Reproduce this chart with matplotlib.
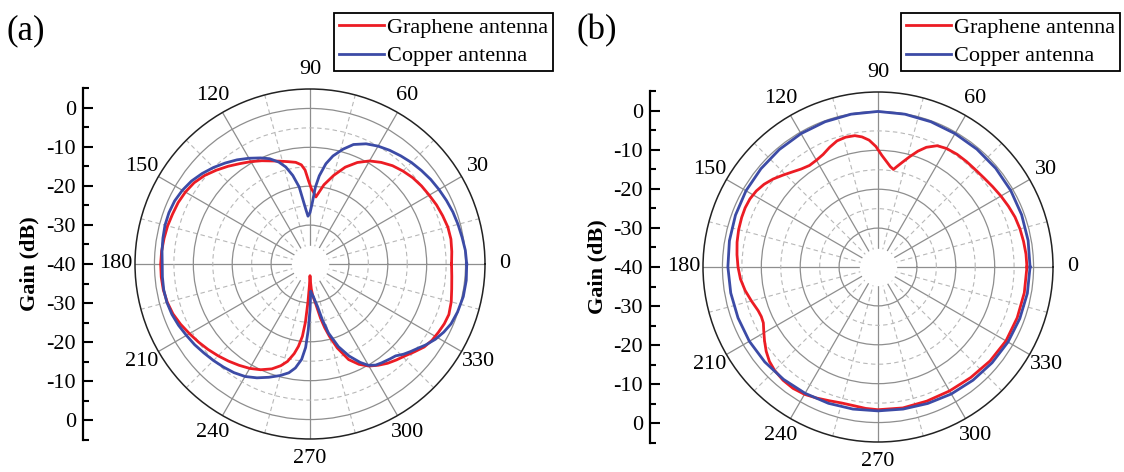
import matplotlib.pyplot as plt
import numpy as np
from matplotlib.ticker import FixedLocator

FIG_W, FIG_H = 1124, 472
FONT = "Liberation Serif"
FONTSIZE = 16
RED = "#ec1c24"
BLUE = "#3c4ba6"
R_MIN, R_MAX = -40, 5
HOLE_R = -35.2

# panel (a) - angle in degrees, gain in dB
A_GRAPHENE_ANG = [0, 5, 10, 15, 20, 25, 30, 35, 40, 45, 50, 55, 60, 65, 70, 75, 80, 83,
                  85, 87, 89, 91, 93, 95, 98, 102, 106, 110, 115, 120, 125, 130, 135,
                  140, 145, 150, 155, 160, 165, 170, 175, 180, 185, 190, 195, 200, 205,
                  210, 215, 220, 225, 230, 235, 240, 245, 250, 254, 257, 260, 262, 264,
                  265.5, 267, 268.5, 270, 271.5, 273, 275, 278, 281, 283, 285, 288, 292,
                  296, 300, 304, 308, 312, 316, 320, 324, 328, 332, 336, 340, 345, 350,
                  355, 360]
A_GRAPHENE_DB = [-3.6, -3.4, -3.2, -3.3, -3.7, -4.1, -4.6, -5.0, -5.5, -6.2, -7.0, -8.1,
                 -9.4, -11.2, -13.5, -16.4, -19.3, -21.5, -22.7, -21.6, -20.6, -18.6,
                 -15.8, -14.4, -13.6, -13.1, -12.5, -11.8, -10.7, -9.6, -8.5, -7.2, -5.9,
                 -4.6, -3.6, -3.0, -2.6, -2.4, -2.1, -1.9, -1.7, -1.6, -1.6, -1.7, -2.0,
                 -2.5, -3.3, -4.2, -5.0, -5.8, -6.6, -7.4, -8.2, -9.0, -10.0, -11.3,
                 -12.8, -14.3, -16.6, -18.6, -21.3, -25.0, -30.5, -34.5, -37.0, -35.5,
                 -33.5, -31.8, -29.8, -25.8, -23.2, -20.8, -17.3, -13.5, -11.3, -9.7,
                 -8.6, -7.6, -6.8, -6.0, -4.9, -3.7, -3.0, -2.6, -2.2, -2.0, -2.4, -3.0,
                 -3.4, -3.6]
A_COPPER_ANG = [0, 5, 10, 15, 20, 25, 30, 35, 40, 45, 50, 55, 60, 65, 70, 74, 78, 81, 84,
                86, 88, 90, 92.4, 94, 95.5, 98, 101, 104, 107, 111, 115, 120, 125, 130,
                135, 140, 145, 150, 155, 160, 165, 170, 175, 180, 185, 190, 195, 200,
                205, 210, 215, 220, 225, 230, 235, 240, 245, 250, 255, 259, 262, 265,
                267, 268.5, 270, 271.5, 273, 275.8, 278, 280, 282.5, 285, 289, 293, 297,
                300, 303, 306, 310, 313, 316, 319, 322, 325, 329, 333, 337, 342, 348,
                354, 360]
A_COPPER_DB = [0.3, 0.1, -0.3, -0.6, -0.9, -1.3, -1.7, -2.1, -2.6, -3.1, -3.7, -4.3, -5.0,
               -5.9, -7.3, -9.3, -11.6, -13.9, -17.2, -20.2, -24.5, -26.8, -27.7, -26.3,
               -24.5, -20.0, -16.8, -14.3, -12.6, -11.0, -9.9, -8.6, -7.3, -6.1, -4.9,
               -3.8, -2.8, -2.1, -1.6, -1.4, -1.4, -1.6, -1.8, -2.0, -1.9, -1.8, -1.9,
               -2.2, -2.7, -3.3, -3.8, -4.4, -4.9, -5.4, -5.9, -6.6, -7.7, -9.0, -10.3,
               -11.5, -13.0, -15.4, -18.5, -23.1, -28.2, -33.0, -32.4, -31.6, -30.3,
               -28.9, -25.3, -21.6, -17.5, -14.3, -11.6, -9.9, -9.0, -8.6, -8.1, -7.7,
               -6.6, -5.7, -4.8, -3.7, -2.4, -1.4, -0.6, -0.1, 0.3, 0.4, 0.3]

# panel (b)
B_GRAPHENE_ANG = [0, 5, 10, 15, 20, 25, 30, 35, 40, 45, 50, 55, 60, 64, 68, 71, 74, 77,
                  79.5, 81, 83, 85, 88, 91, 94, 97, 100, 104, 108, 112, 116, 120, 124,
                  128, 132, 136, 140, 144, 148, 152, 156, 160, 165, 170, 175, 180, 185,
                  190, 195, 200, 203, 206, 209, 213, 217, 221, 225, 230, 235, 240, 245,
                  250, 255, 260, 265, 270, 280, 290, 300, 310, 320, 330, 340, 350, 360]
B_GRAPHENE_DB = [-1.7, -1.8, -2.0, -2.2, -2.5, -3.0, -3.5, -4.0, -4.4, -4.6, -4.6, -4.6,
                 -4.8, -5.3, -6.8, -8.5, -10.5, -12.4, -13.8, -14.6, -14.0, -13.0, -11.3,
                 -9.0, -7.3, -6.3, -5.7, -5.6, -5.9, -6.8, -7.8, -8.3, -8.5, -8.0, -7.1,
                 -6.0, -4.8, -3.8, -3.1, -2.7, -2.6, -2.7, -2.9, -3.2, -3.6, -4.0, -4.5,
                 -5.3, -6.3, -7.2, -7.4, -7.2, -6.4, -5.2, -4.0, -3.0, -2.4, -2.0, -1.9,
                 -2.2, -2.8, -3.4, -3.8, -3.8, -3.5, -3.3, -3.2, -3.3, -3.2, -2.9, -2.4,
                 -2.0, -1.9, -1.8, -1.7]
B_COPPER_ANG = list(range(0, 361, 10))
B_COPPER_DB = [-0.9, -0.8, -0.7, -0.6, -0.5, -0.45, -0.4, -0.25, -0.1, 0.0, -0.1, -0.25,
               -0.4, -0.55, -0.7, -0.8, -1.0, -1.2, -1.4, -1.55, -1.7, -1.8, -2.0, -2.25,
               -2.5, -2.7, -2.9, -3.0, -2.9, -2.65, -2.3, -2.0, -1.7, -1.4, -1.2, -1.0,
               -0.9]

THETA_TICKS = list(range(0, 360, 30))
GAIN_TICKS = [-40, -30, -20, -10, 0, 10, 20, 30, 40]
GAIN_LABELS = ["0", "-10", "-20", "-30", "-40", "-30", "-20", "-10", "0"]
LEGEND_NAMES = ["Graphene antenna", "Copper antenna"]

plt.rcParams["font.family"] = [FONT, "DejaVu Serif"]
plt.rcParams["font.size"] = FONTSIZE
plt.rcParams["axes.unicode_minus"] = False


def px_rect(left, top, width, height):
    """Прямоугольник в пикселях -> доли фигуры."""
    return [left / FIG_W, 1 - (top + height) / FIG_H, width / FIG_W, height / FIG_H]


def draw_polar(fig, cx, cy, radius, graphene, copper, legend_right):
    ax = fig.add_axes(px_rect(cx - radius, cy - radius, 2 * radius, 2 * radius), projection="polar")
    ax.set_theta_zero_location("E")
    ax.set_rlim(R_MIN, R_MAX)
    ax.set_rticks([-30, -20, -10, 0])
    ax.yaxis.set_minor_locator(FixedLocator([-25, -15, -5]))
    ax.set_yticklabels([])
    ax.set_xticks(np.deg2rad(THETA_TICKS))
    ax.set_xticklabels([str(t) for t in THETA_TICKS])
    ax.xaxis.set_minor_locator(FixedLocator(np.deg2rad(np.arange(15, 360, 30))))
    ax.grid(which="major", color="#8e8e8e", linewidth=0.9, linestyle="-")
    ax.grid(which="minor", color="#b8b8b8", linewidth=0.8, linestyle=(0, (4, 3)))
    ax.set_axisbelow(True)
    ax.spines["polar"].set_linewidth(1.1)
    ax.spines["polar"].set_color("#222222")
    ax.tick_params(axis="x", which="both", direction="in", length=6, width=1.0,
                   color="#333333", pad=7, labelsize=FONTSIZE)
    ax.tick_params(axis="y", which="both", length=0)

    # белое "окно" в центре
    hole = np.linspace(0, 2 * np.pi, 240)
    ax.fill_between(hole, R_MIN, HOLE_R, color="white", zorder=1.5, linewidth=0)

    ax.plot(np.deg2rad(graphene[0]), graphene[1], color=RED, linewidth=2.0,
            label=LEGEND_NAMES[0], zorder=3, solid_joinstyle="round")
    ax.plot(np.deg2rad(copper[0]), copper[1], color=BLUE, linewidth=2.0,
            label=LEGEND_NAMES[1], zorder=3, solid_joinstyle="round")

    leg = ax.legend(loc="upper right", bbox_to_anchor=(legend_right / FIG_W, 1 - 13 / FIG_H),
                    bbox_transform=fig.transFigure, fancybox=False, framealpha=1,
                    edgecolor="black", fontsize=FONTSIZE, handlelength=2.05,
                    handletextpad=0.15, borderpad=0.2, labelspacing=0.35,
                    borderaxespad=0)
    leg.get_frame().set_linewidth(1.3)
    return ax


def draw_gain_axis(fig, x, cy, radius, label_x):
    gx = fig.add_axes(px_rect(x, cy - radius, 0.5, 2 * radius))
    gx.set_ylim(-45, 45)
    gx.patch.set_visible(False)
    for side in ("top", "right", "bottom"):
        gx.spines[side].set_visible(False)
    gx.spines["left"].set_linewidth(1.6)
    gx.set_xticks([])
    gx.set_yticks(GAIN_TICKS)
    gx.set_yticklabels(GAIN_LABELS)
    gx.yaxis.set_minor_locator(FixedLocator(np.arange(-45, 46, 10)))
    gx.tick_params(axis="y", which="major", direction="in", length=7, width=1.5, pad=5,
                   labelsize=FONTSIZE)
    gx.tick_params(axis="y", which="minor", direction="in", length=4, width=1.5)
    fig.text(label_x / FIG_W, 1 - cy / FIG_H, "Gain (dB)", rotation=90, ha="center",
             va="center", fontweight="bold", fontsize=FONTSIZE)


fig = plt.figure(figsize=(FIG_W / 100, FIG_H / 100), dpi=100)

draw_polar(fig, 310, 264, 175, (A_GRAPHENE_ANG, A_GRAPHENE_DB), (A_COPPER_ANG, A_COPPER_DB), 553)
draw_gain_axis(fig, 83, 264, 176, 29)
draw_polar(fig, 878, 267, 175, (B_GRAPHENE_ANG, B_GRAPHENE_DB), (B_COPPER_ANG, B_COPPER_DB), 1120)
draw_gain_axis(fig, 650, 267, 176, 597)

fig.text(7 / FIG_W, 1 - 31 / FIG_H, "(a)", fontsize=25, va="center", ha="left")
fig.text(576 / FIG_W, 1 - 31 / FIG_H, "(b)", fontsize=25, va="center", ha="left")

fig.savefig("out.png", dpi=100)
